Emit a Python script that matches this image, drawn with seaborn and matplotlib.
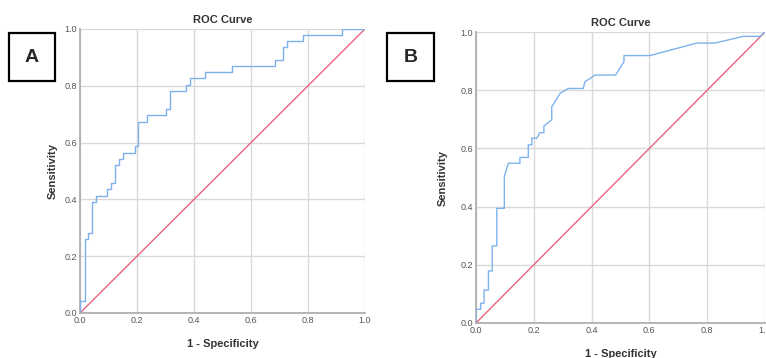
import matplotlib
matplotlib.use("Agg")
import matplotlib.pyplot as plt
from matplotlib.patches import Rectangle
import pandas as pd
import seaborn as sns

# ── ROC points ──────────────────────────────────────────────────────────────
fpr_a = [0.0, 0.0, 0.018, 0.018, 0.029, 0.029, 0.043, 0.043, 0.057, 0.057,
         0.096, 0.096, 0.110, 0.110, 0.124, 0.124, 0.138, 0.138, 0.152, 0.152,
         0.193, 0.193, 0.205, 0.205, 0.234, 0.234, 0.302, 0.302, 0.317, 0.317,
         0.371, 0.371, 0.385, 0.385, 0.439, 0.439, 0.534, 0.534, 0.685, 0.685,
         0.713, 0.713, 0.726, 0.726, 0.784, 0.784, 0.918, 0.918, 1.0]
tpr_a = [0.0, 0.043, 0.043, 0.261, 0.261, 0.283, 0.283, 0.391, 0.391, 0.413,
         0.413, 0.435, 0.435, 0.457, 0.457, 0.522, 0.522, 0.543, 0.543, 0.565,
         0.565, 0.587, 0.587, 0.674, 0.674, 0.696, 0.696, 0.717, 0.717, 0.783,
         0.783, 0.804, 0.804, 0.826, 0.826, 0.848, 0.848, 0.870, 0.870, 0.891,
         0.891, 0.935, 0.935, 0.957, 0.957, 0.978, 0.978, 1.0, 1.0]

fpr_b = [0.0, 0.0, 0.016, 0.016, 0.028, 0.028, 0.043, 0.043, 0.056, 0.056,
         0.072, 0.072, 0.098, 0.098, 0.112, 0.152, 0.152, 0.181, 0.181, 0.193,
         0.193, 0.210, 0.221, 0.235, 0.235, 0.262, 0.262, 0.277, 0.291, 0.319,
         0.371, 0.377, 0.412, 0.483, 0.512, 0.512, 0.602, 0.764, 0.827, 0.925,
         0.983, 1.0]
tpr_b = [0.0, 0.047, 0.047, 0.068, 0.068, 0.113, 0.113, 0.179, 0.179, 0.265,
         0.265, 0.394, 0.394, 0.503, 0.549, 0.549, 0.569, 0.569, 0.612, 0.612,
         0.635, 0.635, 0.654, 0.654, 0.677, 0.698, 0.743, 0.766, 0.789, 0.806,
         0.806, 0.829, 0.852, 0.852, 0.898, 0.919, 0.919, 0.962, 0.962, 0.985,
         0.985, 1.0]

ref_line = [0.0, 1.0]
ticks = [0.0, 0.2, 0.4, 0.6, 0.8, 1.0]
panels = ["A", "B"]

CURVE = "#7fb2ec"
DIAG = "#e8637c"
GRID = "#d9d9d9"
SPINE = "#b0b0b0"
TICK_TXT = "#555555"

sns.set_style("white")
plt.rcParams["font.family"] = ["Liberation Sans", "DejaVu Sans"]

fig = plt.figure(figsize=(7.66, 3.58), dpi=100)
W, H = 766, 358

# axes boxes in pixels: left, top, right, bottom
boxes = [(80, 29, 365, 313), (476, 32, 765, 323)]
frames = [(9, 33, 55, 81), (387, 33, 434, 81)]
ypads = [5, 9]
curves = [(fpr_a, tpr_a), (fpr_b, tpr_b)]

for (l, t, r, b), (fx, ty), tag, (bl, bt, br, bb), yp in zip(
        boxes, curves, panels, frames, ypads):
    ax = fig.add_axes([l / W, 1 - b / H, (r - l) / W, (b - t) / H])
    roc = pd.DataFrame({"fpr": fx, "tpr": ty})
    diag = pd.DataFrame({"x": ref_line, "y": ref_line})
    sns.lineplot(data=diag, x="x", y="y", color=DIAG, lw=1.0, ax=ax, zorder=3)
    sns.lineplot(data=roc, x="fpr", y="tpr", sort=False, estimator=None,
                 color=CURVE, lw=1.0, ax=ax, zorder=4)
    ax.set_xlim(0, 1)
    ax.set_ylim(0, 1)
    ax.set_xticks(ticks)
    ax.set_yticks(ticks)
    ax.set_xticklabels([f"{v:.1f}" for v in ticks])
    ax.set_yticklabels([f"{v:.1f}" for v in ticks])
    ax.grid(True, color=GRID, lw=1.0)
    ax.set_axisbelow(True)
    for side in ["top", "right"]:
        ax.spines[side].set_visible(False)
    for side in ["left", "bottom"]:
        ax.spines[side].set_color(SPINE)
        ax.spines[side].set_linewidth(1.3)
    ax.tick_params(length=0, labelsize=6.5, labelcolor=TICK_TXT, pad=2)
    ax.set_title("ROC Curve", fontsize=8, fontweight="bold", color="#333333", pad=4)
    ax.set_xlabel("1 - Specificity", fontsize=8, fontweight="bold",
                  color="#333333", labelpad=10)
    ax.set_ylabel("Sensitivity", fontsize=8, fontweight="bold",
                  color="#333333", labelpad=yp)

    # panel letter in a black box
    fig.add_artist(Rectangle((bl / W, 1 - bb / H), (br - bl) / W, (bb - bt) / H,
                             transform=fig.transFigure, fill=False,
                             edgecolor="black", lw=1.6))
    fig.text((bl + br) / 2 / W, 1 - (bt + bb) / 2 / H, tag, ha="center",
             va="center", fontsize=14, fontweight="bold")

fig.savefig("out.png", dpi=100)
